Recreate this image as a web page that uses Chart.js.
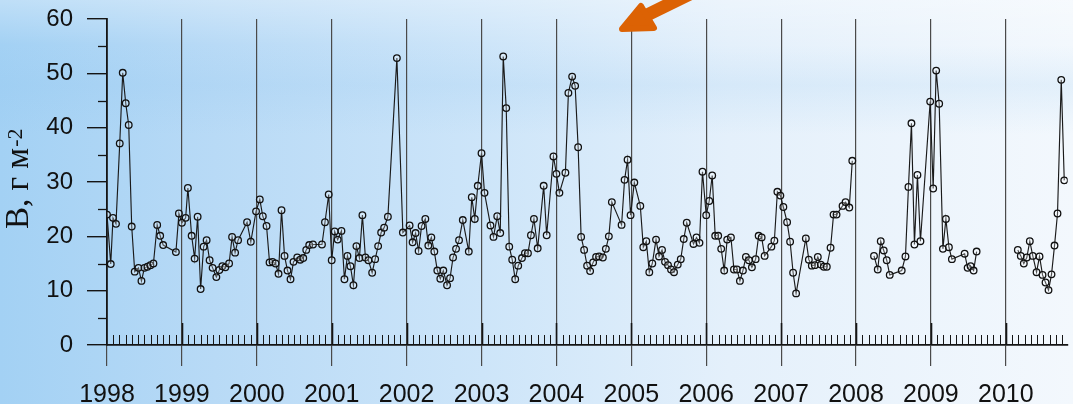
<!DOCTYPE html>
<html>
<head>
<meta charset="utf-8">
<script src="https://cdn.jsdelivr.net/npm/chart.js@4.4.1/dist/chart.umd.min.js"></script>
<style>
  html, body { margin: 0; padding: 0; }
  body {
    width: 1073px; height: 404px; overflow: hidden;
    background:
      linear-gradient(to bottom, rgba(255,255,255,0.30) 0px, rgba(255,255,255,0) 45px, rgba(140,195,238,0.16) 85px, rgba(255,255,255,0) 135px, rgba(255,255,255,0) 100%),
      linear-gradient(to right, #a3d1f4 0%, #b8daf6 20%, #cde5f9 45%, #e4f0fb 68%, #f3f8fd 100%);
  }
  #wrap { position: relative; width: 1073px; height: 404px; }
</style>
</head>
<body>
<div id="wrap"><canvas id="chart" width="1073" height="404"></canvas></div>
<script>
// Year tick labels along the time axis
const yearTicks = [1998, 1999, 2000, 2001, 2002, 2003, 2004, 2005, 2006, 2007, 2008, 2009, 2010];
// Biomass axis labels
const biomassTicks = [0, 10, 20, 30, 40, 50, 60];

// Sampling dates (decimal years); a null value below breaks the line
const sampleYears = [
  1998.00, 1998.05, 1998.08, 1998.12, 1998.17, 1998.21, 1998.25, 1998.29, 1998.33, 1998.37,
  1998.42, 1998.46, 1998.50, 1998.54, 1998.58, 1998.62, 1998.67, 1998.71, 1998.75, 1998.92,
  1998.96, 1999.00, 1999.05, 1999.08, 1999.13, 1999.17, 1999.21, 1999.25, 1999.29, 1999.33,
  1999.37, 1999.41, 1999.46, 1999.50, 1999.54, 1999.58, 1999.63, 1999.67, 1999.71, 1999.75,
  1999.87, 1999.92, 1999.99, 2000.04, 2000.08, 2000.13, 2000.17, 2000.21, 2000.25, 2000.29,
  2000.33, 2000.37, 2000.41, 2000.45, 2000.49, 2000.54, 2000.58, 2000.62, 2000.66, 2000.70,
  2000.75, 2000.87, 2000.91, 2000.96, 2001.00, 2001.04, 2001.08, 2001.13, 2001.17, 2001.21,
  2001.25, 2001.29, 2001.33, 2001.37, 2001.41, 2001.45, 2001.49, 2001.54, 2001.58, 2001.62,
  2001.66, 2001.70, 2001.75, 2001.87, 2001.95, 2002.04, 2002.08, 2002.12, 2002.16, 2002.20,
  2002.25, 2002.29, 2002.33, 2002.37, 2002.41, 2002.45, 2002.49, 2002.54, 2002.58, 2002.62,
  2002.66, 2002.70, 2002.75, 2002.83, 2002.87, 2002.91, 2002.95, 2003.00, 2003.04, 2003.12,
  2003.16, 2003.21, 2003.25, 2003.29, 2003.33, 2003.37, 2003.41, 2003.45, 2003.49, 2003.54,
  2003.58, 2003.62, 2003.66, 2003.70, 2003.75, 2003.83, 2003.87, 2003.96, 2004.00, 2004.04,
  2004.12, 2004.16, 2004.21, 2004.25, 2004.29, 2004.33, 2004.37, 2004.41, 2004.45, 2004.49,
  2004.53, 2004.57, 2004.62, 2004.66, 2004.70, 2004.74, 2004.87, 2004.91, 2004.95, 2004.99,
  2005.04, 2005.12, 2005.16, 2005.20, 2005.24, 2005.28, 2005.33, 2005.37, 2005.41, 2005.45,
  2005.49, 2005.53, 2005.57, 2005.62, 2005.66, 2005.70, 2005.74, 2005.83, 2005.87, 2005.91,
  2005.95, 2006.00, 2006.04, 2006.08, 2006.12, 2006.16, 2006.20, 2006.24, 2006.28, 2006.33,
  2006.37, 2006.41, 2006.45, 2006.49, 2006.53, 2006.57, 2006.61, 2006.66, 2006.70, 2006.74,
  2006.78, 2006.87, 2006.91, 2006.95, 2006.99, 2007.03, 2007.08, 2007.12, 2007.16, 2007.20,
  2007.33, 2007.37, 2007.41, 2007.45, 2007.49, 2007.53, 2007.57, 2007.61, 2007.66, 2007.70,
  2007.74, 2007.82, 2007.86, 2007.91, 2007.95, 2008.10, 2008.24, 2008.29, 2008.33, 2008.37,
  2008.41, 2008.45, 2008.61, 2008.66, 2008.70, 2008.74, 2008.78, 2008.82, 2008.86, 2008.99,
  2009.03, 2009.07, 2009.11, 2009.16, 2009.20, 2009.24, 2009.28, 2009.45, 2009.49, 2009.53,
  2009.57, 2009.61, 2009.90, 2010.16, 2010.20, 2010.24, 2010.28, 2010.32, 2010.36, 2010.41,
  2010.45, 2010.49, 2010.53, 2010.57, 2010.61, 2010.65, 2010.69, 2010.74, 2010.78
];

// Biomass, g m^-2
const biomass = [
  24.0, 14.9, 23.4, 22.3, 37.1, 50.1, 44.5, 40.5, 21.8, 13.5,
  14.2, 11.8, 14.2, 14.4, 14.7, 15.0, 22.1, 20.1, 18.4, 17.1,
  24.2, 22.5, 23.4, 28.9, 20.1, 15.9, 23.6, 10.3, 18.1, 19.3,
  15.6, 14.2, 12.5, 13.8, 14.5, 14.3, 15.0, 19.9, 17.0, 19.3,
  22.6, 19.0, 24.6, 26.8, 23.7, 21.9, 15.2, 15.3, 15.0, 13.1,
  24.8, 16.4, 13.7, 12.1, 15.3, 16.1, 15.7, 16.0, 17.5, 18.4,
  18.5, 18.5, 22.6, 27.7, 15.6, 20.9, 19.4, 21.0, 12.1, 16.4,
  14.5, 11.0, 18.2, 16.0, 23.9, 16.1, 15.6, 13.3, 15.8, 18.2,
  20.7, 21.6, 23.6, 52.8, 20.7, 22.0, 18.9, 20.6, 17.3, 21.9,
  23.2, 18.3, 19.8, 17.2, 13.7, 12.2, 13.7, 11.0, 12.3, 16.1,
  17.7, 19.3, 23.0, 17.2, 27.2, 23.2, 29.3, 35.3, 28.0, 22.0,
  19.9, 23.7, 20.6, 53.1, 43.6, 18.1, 15.7, 12.1, 14.6, 16.0,
  16.9, 16.9, 20.2, 23.2, 17.8, 29.3, 20.2, 34.7, 31.5, 28.0,
  31.7, 46.4, 49.4, 47.7, 36.4, 19.9, 17.5, 14.6, 13.6, 15.2,
  16.2, 16.3, 16.1, 17.7, 20.0, 26.3, 22.1, 30.4, 34.1, 23.9,
  29.9, 25.6, 18.0, 19.1, 13.4, 15.0, 19.4, 16.3, 17.5, 15.3,
  14.7, 13.9, 13.4, 14.8, 15.8, 19.5, 22.5, 18.6, 19.8, 18.8,
  31.9, 23.9, 26.5, 31.2, 20.1, 20.1, 17.7, 13.7, 19.4, 19.8,
  13.9, 13.9, 11.8, 13.7, 16.2, 15.6, 14.3, 15.8, 20.1, 19.8,
  16.4, 18.1, 19.2, 28.2, 27.5, 25.4, 22.6, 19.0, 13.3, 9.5,
  19.6, 15.7, 14.6, 14.7, 16.2, 14.8, 14.4, 14.4, 17.9, 24.0,
  24.0, 25.6, 26.3, 25.3, 33.9, null, 16.4, 13.9, 19.1, 17.4,
  15.6, 12.9, 13.7, 16.3, 29.1, 40.8, 18.5, 31.3, 19.1, 44.8,
  28.8, 50.5, 44.4, 17.7, 23.2, 18.0, 15.8, 16.8, 14.2, 14.5,
  13.7, 17.2, null, 17.5, 16.4, 15.0, 16.1, 19.1, 16.4, 13.4,
  16.3, 12.9, 11.5, 10.1, 13.0, 18.3, 24.2, 48.8, 30.3
];

const points = sampleYears.map((x, i) => ({ x: x, y: biomass[i] }));

const INK = '#151515';
const GRID = '#4a4a4a';

// Monthly / half-step minor ticks, the axis title and the pointer arrow
const decorations = {
  id: 'decorations',
  afterDraw(chart) {
    const ctx = chart.ctx;
    const xs = chart.scales.x;
    const ys = chart.scales.y;
    const y0 = ys.getPixelForValue(0);
    ctx.save();

    // monthly ticks pointing up from the time axis
    ctx.strokeStyle = INK;
    for (let m = 1; m <= 12 * 13; m++) {
      const v = 1998 + m / 12;
      if (v > xs.max) break;
      const px = Math.round(xs.getPixelForValue(v)) + 0.5;
      const major = m % 12 === 0;
      ctx.beginPath();
      ctx.moveTo(px, y0);
      ctx.lineTo(px, y0 - (major ? 22 : 10));
      ctx.lineWidth = major ? 1.6 : 1;
      ctx.stroke();
    }

    // half-step ticks on the biomass axis
    ctx.lineWidth = 1.3;
    for (let v = 5; v < 60; v += 10) {
      const py = Math.round(ys.getPixelForValue(v)) + 0.5;
      ctx.beginPath();
      ctx.moveTo(xs.left - 9, py);
      ctx.lineTo(xs.left, py);
      ctx.stroke();
    }

    // vertical axis title
    ctx.fillStyle = '#111';
    ctx.translate(28, 229);
    ctx.rotate(-Math.PI / 2);
    ctx.textBaseline = 'alphabetic';
    ctx.textAlign = 'left';
    ctx.font = '33px "Liberation Serif", "Times New Roman", serif';
    const main = 'B, г м';
    ctx.fillText(main, 0, 0);
    const w = ctx.measureText(main).width;
    ctx.font = '22px "Liberation Serif", "Times New Roman", serif';
    ctx.fillText('-2', w + 1, -6);
    ctx.restore();

    // orange pointer arrow
    ctx.save();
    ctx.fillStyle = '#dc6204';
    ctx.strokeStyle = '#dc6204';
    ctx.lineCap = 'round';
    ctx.lineJoin = 'round';
    ctx.lineWidth = 13;
    ctx.beginPath();
    ctx.moveTo(641, 18);
    ctx.lineTo(702, -12);
    ctx.stroke();
    ctx.lineWidth = 6;
    ctx.beginPath();
    ctx.moveTo(622, 29);
    ctx.lineTo(641, 6);
    ctx.lineTo(654, 28);
    ctx.closePath();
    ctx.fill();
    ctx.stroke();
    ctx.restore();
  }
};

new Chart(document.getElementById('chart'), {
  type: 'line',
  data: {
    datasets: [{
      data: points,
      borderColor: '#1a1a1a',
      borderWidth: 1.15,
      tension: 0,
      spanGaps: false,
      pointRadius: 3.3,
      pointBorderWidth: 1.3,
      pointBorderColor: '#111',
      pointBackgroundColor: 'rgba(255,255,255,0.25)'
    }]
  },
  options: {
    responsive: false,
    animation: false,
    events: [],
    layout: { padding: { top: 19, right: 0, bottom: 0, left: 0 } },
    plugins: { legend: { display: false }, tooltip: { enabled: false } },
    scales: {
      x: {
        type: 'linear',
        min: 1998,
        max: 2010.826,
        afterBuildTicks: s => { s.ticks = yearTicks.map(v => ({ value: v })); },
        afterFit: s => { s.height = 59; s.paddingLeft = 0; s.paddingRight = 0; },
        ticks: {
          autoSkip: false,
          maxRotation: 0,
          padding: 14,
          color: '#111',
          font: { family: '"Liberation Sans", Arial, sans-serif', size: 25 },
          callback: v => String(v)
        },
        grid: {
          color: GRID,
          lineWidth: 1.2,
          drawOnChartArea: true,
          drawTicks: true,
          tickLength: 21,
          tickColor: GRID
        },
        border: { display: true, color: INK, width: 1.8 }
      },
      y: {
        min: 0,
        max: 60,
        afterBuildTicks: s => { s.ticks = biomassTicks.map(v => ({ value: v })); },
        afterFit: s => { s.width = 107; s.paddingTop = 0; s.paddingBottom = 0; },
        ticks: {
          padding: 14,
          color: '#111',
          font: { family: '"Liberation Sans", Arial, sans-serif', size: 24 }
        },
        grid: {
          drawOnChartArea: false,
          drawTicks: true,
          tickLength: 20,
          lineWidth: 1.4,
          tickColor: INK
        },
        border: { display: true, color: INK, width: 1.8 }
      }
    }
  },
  plugins: [decorations]
});
</script>
</body>
</html>
